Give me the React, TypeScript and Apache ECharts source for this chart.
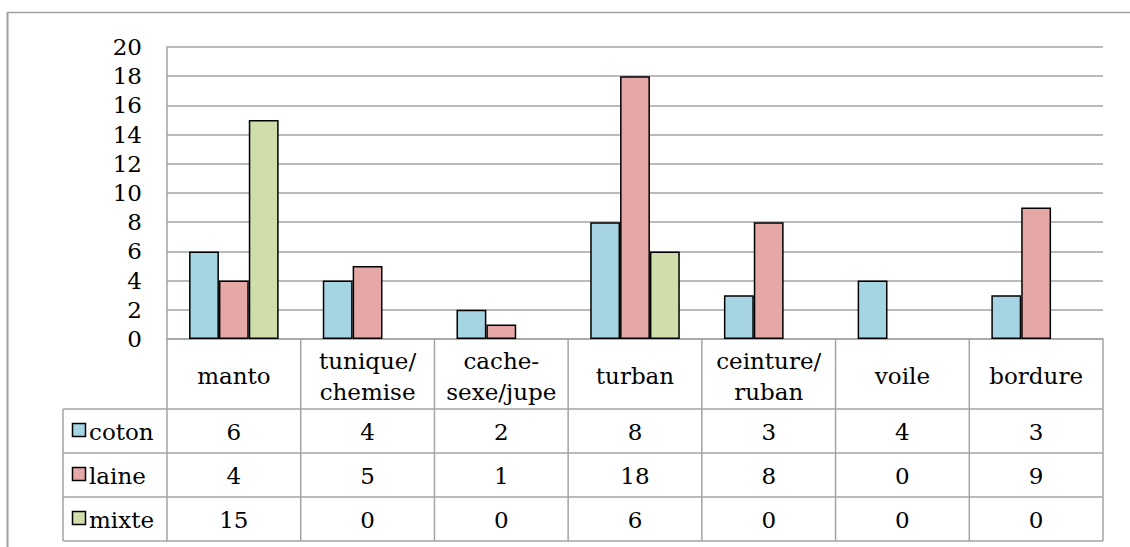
import React, { useEffect, useRef } from "react";
import * as echarts from "echarts";

const categories = ["manto", "tunique/\nchemise", "cache-\nsexe/jupe", "turban", "ceinture/\nruban", "voile", "bordure"];
const seriesNames = ["coton", "laine", "mixte"];
const coton = [6, 4, 2, 8, 3, 4, 3];
const laine = [4, 5, 1, 18, 8, 0, 9];
const mixte = [15, 0, 0, 6, 0, 0, 0];
const seriesColors = ["#A5D5E3", "#E5A8A7", "#CFDEAA"];
const yMin = 0;
const yMax = 20;
const yInterval = 2;

const FONT = "'DejaVu Serif', 'Liberation Serif', serif";
const GRID = "#a3a3a3";

export default function App() {
  const ref = useRef<HTMLDivElement>(null);
  useEffect(() => {
    if (!ref.current) return;
    const chart = echarts.init(ref.current, undefined, { renderer: "svg" });
    const values = [coton, laine, mixte];
    const gridTop = 47;
    const gridBottom = 208;
    const gridLeft = 167;
    const gridRight = 27;
    chart.setOption({
      animation: false,
      backgroundColor: "#fff",
      grid: { left: gridLeft, right: gridRight, top: gridTop, bottom: gridBottom },
      xAxis: {
        type: "category",
        data: categories,
        axisLabel: { show: false },
        axisTick: { show: false },
        axisLine: { show: true, lineStyle: { color: GRID, width: 1.5 } },
      },
      yAxis: {
        type: "value",
        min: yMin,
        max: yMax,
        interval: yInterval,
        axisLine: { show: true, lineStyle: { color: GRID, width: 1.5 } },
        axisTick: { show: false },
        splitLine: { lineStyle: { color: GRID, width: 1.5 } },
        axisLabel: { fontFamily: FONT, fontSize: 23, color: "#000", margin: 25 },
      },
      series: seriesNames.map((name, si) => ({
        name,
        type: "bar",
        data: values[si].map((v) => (v === 0 ? null : v)),
        barGap: "0%",
        barCategoryGap: "33%",
        itemStyle: { color: seriesColors[si], borderColor: "#000", borderWidth: 1.5 },
      })),
    });

    const x0 = chart.convertToPixel({ xAxisIndex: 0 }, 0) as number;
    const x1 = chart.convertToPixel({ xAxisIndex: 0 }, 1) as number;
    const colW = x1 - x0;
    const yZero = chart.convertToPixel({ yAxisIndex: 0 }, yMin) as number;
    const left = x0 - colW / 2;
    const right = left + colW * categories.length;
    const headerH = 70;
    const rowH = 44;
    const legendLeft = 63;
    const rowTops = seriesNames.map((_, i) => yZero + headerH + i * rowH);
    const tableBottom = yZero + headerH + seriesNames.length * rowH;
    const ls = { stroke: GRID, lineWidth: 1.5 };
    const g: any[] = [];
    // outer frame
    g.push({ type: "line", shape: { x1: 7.5, y1: 12, x2: 7.5, y2: 547 }, style: { stroke: "#a0a0a0", lineWidth: 2 } });
    g.push({ type: "line", shape: { x1: 7, y1: 12.5, x2: 1130, y2: 12.5 }, style: { stroke: "#a0a0a0", lineWidth: 1.5 } });
    // vertical lines
    for (let i = 0; i <= categories.length; i++) {
      const x = left + i * colW;
      g.push({ type: "line", shape: { x1: x, y1: yZero, x2: x, y2: tableBottom }, style: ls });
    }
    g.push({ type: "line", shape: { x1: legendLeft, y1: rowTops[0], x2: legendLeft, y2: tableBottom }, style: ls });
    // horizontal lines
    [...rowTops, tableBottom].forEach((y) => {
      g.push({ type: "line", shape: { x1: legendLeft, y1: y, x2: right, y2: y }, style: ls });
    });
    // header text
    categories.forEach((c, i) => {
      g.push({
        type: "text",
        x: left + (i + 0.5) * colW,
        y: yZero + headerH / 2 + 2,
        style: { text: c, fontFamily: FONT, fontSize: 23, lineHeight: 31, fill: "#000", align: "center", verticalAlign: "middle" },
      });
    });
    // rows
    seriesNames.forEach((name, si) => {
      const cy = rowTops[si] + rowH / 2;
      g.push({ type: "rect", shape: { x: 72.5, y: cy - 7.5, width: 13, height: 13 }, style: { fill: seriesColors[si], stroke: "#000", lineWidth: 1.5 } });
      g.push({ type: "text", x: 89, y: cy + 1, style: { text: name, fontFamily: FONT, fontSize: 23, fill: "#000", align: "left", verticalAlign: "middle" } });
      values[si].forEach((v, i) => {
        g.push({
          type: "text",
          x: left + (i + 0.5) * colW,
          y: cy + 1,
          style: { text: String(v), fontFamily: FONT, fontSize: 23, fill: "#000", align: "center", verticalAlign: "middle" },
        });
      });
    });
    chart.setOption({ graphic: g });
    return () => chart.dispose();
  }, []);
  return <div ref={ref} style={{ position: "fixed", left: 0, top: 0, width: 1130, height: 547 }} />;
}
